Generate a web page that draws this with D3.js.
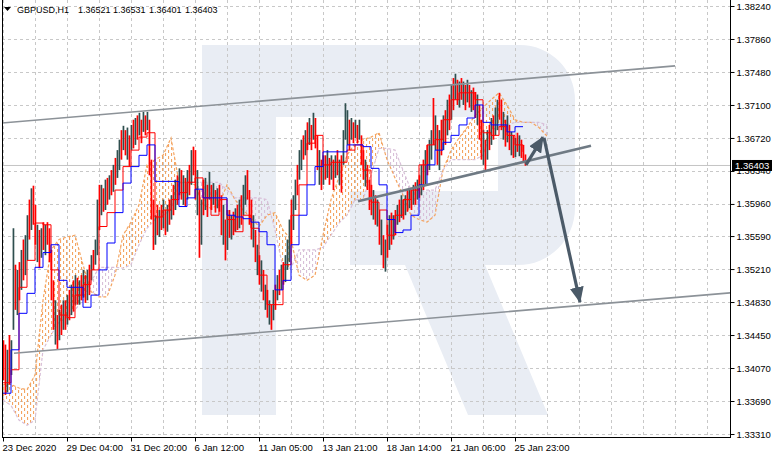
<!DOCTYPE html>
<html><head><meta charset="utf-8">
<script src="https://cdn.jsdelivr.net/npm/d3@7"></script>
<style>
html,body{margin:0;padding:0;background:#fff;}
svg{display:block;font-family:"Liberation Sans",Arial,sans-serif;}
</style></head><body>
<svg id="chart" width="776" height="458"></svg>
<script>
// ---------- DATA ----------
const symbolInfo = ["GBPUSD,H1", "1.36521", "1.36531", "1.36401", "1.36403"];
const lastPrice = 1.36403;
const priceTicks = [1.38240,1.37860,1.37480,1.37100,1.36720,1.36340,1.35960,1.35590,1.35210,1.34830,1.34450,1.34070,1.33690,1.33310];
const timeTickHours = [0,64,128,192,256,320,384,448,512];
const timeTickLabels = ["23 Dec 2020","29 Dec 04:00","31 Dec 20:00","6 Jan 12:00","11 Jan 05:00","13 Jan 21:00","18 Jan 14:00","21 Jan 06:00","25 Jan 23:00"];
const barStepHours = 2;     // one bar per 2 hours
const lineStepHours = 8;    // indicator samples every 8 hours

const highs = [
1.3439,1.3434,1.3428,1.3445,1.3439,1.3568,1.3526,1.3520,1.3529,1.3543,
1.3555,1.3560,1.3583,1.3601,1.3614,1.3617,1.3595,1.3572,1.3566,1.3568,
1.3575,1.3572,1.3575,1.3568,1.3543,1.3508,1.3485,1.3468,1.3474,1.3480,
1.3485,1.3485,1.3491,1.3497,1.3503,1.3508,1.3514,1.3511,1.3508,1.3514,
1.3520,1.3514,1.3520,1.3526,1.3537,1.3543,1.3555,1.3601,1.3618,1.3618,
1.3614,1.3624,1.3626,1.3629,1.3635,1.3641,1.3649,1.3658,1.3670,1.3681,
1.3686,1.3681,1.3684,1.3675,1.3687,1.3693,1.3695,1.3698,1.3701,1.3693,
1.3702,1.3698,1.3702,1.3693,1.3647,1.3601,1.3583,1.3595,1.3589,1.3595,
1.3601,1.3589,1.3595,1.3601,1.3606,1.3618,1.3624,1.3629,1.3637,1.3635,
1.3629,1.3626,1.3635,1.3641,1.3658,1.3662,1.3658,1.3635,1.3612,1.3601,
1.3624,1.3626,1.3618,1.3633,1.3618,1.3620,1.3612,1.3614,1.3618,1.3606,
1.3595,1.3578,1.3589,1.3589,1.3583,1.3587,1.3591,1.3595,1.3601,1.3606,
1.3618,1.3629,1.3635,1.3612,1.3601,1.3583,1.3566,1.3549,1.3537,1.3531,
1.3520,1.3503,1.3497,1.3485,1.3480,1.3497,1.3503,1.3514,1.3520,1.3526,
1.3529,1.3537,1.3555,1.3578,1.3601,1.3606,1.3624,1.3641,1.3658,1.3670,
1.3675,1.3681,1.3690,1.3695,1.3687,1.3701,1.3695,1.3675,1.3658,1.3647,
1.3652,1.3652,1.3658,1.3649,1.3652,1.3647,1.3652,1.3658,1.3647,1.3652,
1.3681,1.3712,1.3704,1.3693,1.3695,1.3690,1.3693,1.3687,1.3693,1.3675,
1.3658,1.3647,1.3641,1.3624,1.3618,1.3612,1.3606,1.3601,1.3589,1.3578,
1.3560,1.3555,1.3572,1.3583,1.3586,1.3583,1.3589,1.3595,1.3601,1.3606,
1.3601,1.3606,1.3612,1.3614,1.3612,1.3618,1.3621,1.3624,1.3629,1.3641,
1.3647,1.3658,1.3664,1.3670,1.3681,1.3718,1.3698,1.3687,1.3681,1.3693,
1.3698,1.3704,1.3716,1.3722,1.3733,1.3741,1.3746,1.3739,1.3737,1.3741,
1.3737,1.3733,1.3739,1.3733,1.3727,1.3730,1.3725,1.3722,1.3710,1.3693,
1.3681,1.3670,1.3681,1.3687,1.3695,1.3698,1.3707,1.3716,1.3724,1.3716,
1.3702,1.3693,1.3698,1.3687,1.3679,1.3675,1.3672,1.3678,1.3675,1.3670,
1.3664,1.3653];
const lows = [
1.3393,1.3376,1.3379,1.3388,1.3399,1.3451,1.3474,1.3468,1.3485,1.3497,
1.3508,1.3514,1.3531,1.3555,1.3566,1.3572,1.3549,1.3529,1.3522,1.3534,
1.3543,1.3537,1.3549,1.3529,1.3485,1.3451,1.3434,1.3428,1.3439,1.3445,
1.3451,1.3451,1.3457,1.3462,1.3468,1.3472,1.3480,1.3480,1.3480,1.3485,
1.3488,1.3482,1.3485,1.3491,1.3508,1.3520,1.3526,1.3537,1.3566,1.3583,
1.3587,1.3589,1.3595,1.3601,1.3606,1.3610,1.3618,1.3626,1.3635,1.3647,
1.3658,1.3652,1.3647,1.3639,1.3658,1.3660,1.3664,1.3670,1.3675,1.3666,
1.3679,1.3675,1.3681,1.3629,1.3578,1.3543,1.3549,1.3560,1.3558,1.3566,
1.3568,1.3560,1.3564,1.3572,1.3578,1.3583,1.3589,1.3595,1.3606,1.3601,
1.3595,1.3593,1.3601,1.3606,1.3618,1.3629,1.3601,1.3583,1.3534,1.3549,
1.3583,1.3589,1.3581,1.3601,1.3589,1.3595,1.3586,1.3591,1.3587,1.3560,
1.3549,1.3531,1.3543,1.3557,1.3555,1.3560,1.3564,1.3566,1.3568,1.3572,
1.3583,1.3595,1.3601,1.3572,1.3555,1.3546,1.3529,1.3514,1.3503,1.3495,
1.3485,1.3474,1.3465,1.3457,1.3451,1.3462,1.3474,1.3485,1.3491,1.3497,
1.3503,1.3506,1.3520,1.3529,1.3549,1.3566,1.3589,1.3606,1.3624,1.3635,
1.3647,1.3652,1.3658,1.3664,1.3658,1.3670,1.3660,1.3635,1.3618,1.3612,
1.3618,1.3624,1.3626,1.3618,1.3624,1.3612,1.3626,1.3629,1.3618,1.3609,
1.3641,1.3670,1.3664,1.3658,1.3670,1.3666,1.3672,1.3666,1.3670,1.3641,
1.3624,1.3616,1.3612,1.3589,1.3583,1.3578,1.3572,1.3570,1.3549,1.3537,
1.3522,1.3518,1.3534,1.3543,1.3549,1.3555,1.3560,1.3572,1.3575,1.3580,
1.3578,1.3583,1.3587,1.3591,1.3589,1.3595,1.3595,1.3601,1.3603,1.3606,
1.3612,1.3618,1.3629,1.3635,1.3647,1.3664,1.3658,1.3641,1.3635,1.3652,
1.3658,1.3664,1.3675,1.3681,1.3693,1.3704,1.3716,1.3710,1.3707,1.3716,
1.3710,1.3704,1.3713,1.3707,1.3702,1.3704,1.3695,1.3687,1.3670,1.3647,
1.3641,1.3635,1.3647,1.3658,1.3664,1.3670,1.3675,1.3681,1.3693,1.3681,
1.3670,1.3662,1.3667,1.3658,1.3652,1.3649,1.3650,1.3656,1.3651,1.3649,
1.3644,1.3640];
const closes = [
1.3405,1.3388,1.3416,1.3399,1.3434,1.3497,1.3480,1.3508,1.3491,1.3531,
1.3520,1.3555,1.3578,1.3566,1.3606,1.3583,1.3555,1.3560,1.3537,1.3564,
1.3549,1.3568,1.3555,1.3537,1.3491,1.3462,1.3474,1.3439,1.3468,1.3451,
1.3480,1.3462,1.3485,1.3468,1.3497,1.3480,1.3508,1.3485,1.3503,1.3491,
1.3514,1.3488,1.3514,1.3503,1.3531,1.3526,1.3549,1.3589,1.3578,1.3606,
1.3591,1.3618,1.3601,1.3624,1.3612,1.3635,1.3624,1.3652,1.3658,1.3652,
1.3681,1.3658,1.3675,1.3647,1.3681,1.3670,1.3690,1.3675,1.3695,1.3672,
1.3698,1.3681,1.3695,1.3635,1.3583,1.3560,1.3572,1.3566,1.3583,1.3572,
1.3595,1.3566,1.3589,1.3578,1.3601,1.3589,1.3618,1.3601,1.3633,1.3606,
1.3624,1.3601,1.3629,1.3618,1.3652,1.3641,1.3612,1.3624,1.3543,1.3595,
1.3589,1.3621,1.3589,1.3624,1.3595,1.3614,1.3591,1.3610,1.3595,1.3566,
1.3583,1.3543,1.3578,1.3564,1.3578,1.3566,1.3587,1.3572,1.3595,1.3583,
1.3612,1.3624,1.3606,1.3601,1.3566,1.3572,1.3537,1.3543,1.3508,1.3526,
1.3491,1.3497,1.3468,1.3480,1.3462,1.3491,1.3480,1.3508,1.3497,1.3520,
1.3508,1.3531,1.3549,1.3572,1.3566,1.3601,1.3618,1.3612,1.3652,1.3664,
1.3652,1.3675,1.3664,1.3690,1.3670,1.3693,1.3670,1.3641,1.3647,1.3618,
1.3647,1.3629,1.3652,1.3624,1.3647,1.3618,1.3647,1.3635,1.3641,1.3618,
1.3675,1.3681,1.3693,1.3670,1.3690,1.3672,1.3687,1.3670,1.3684,1.3647,
1.3629,1.3641,1.3618,1.3612,1.3589,1.3606,1.3578,1.3595,1.3555,1.3566,
1.3531,1.3549,1.3543,1.3575,1.3555,1.3578,1.3566,1.3589,1.3580,1.3601,
1.3583,1.3603,1.3591,1.3610,1.3595,1.3614,1.3601,1.3620,1.3612,1.3635,
1.3621,1.3652,1.3637,1.3664,1.3675,1.3670,1.3693,1.3647,1.3670,1.3658,
1.3693,1.3672,1.3710,1.3693,1.3727,1.3716,1.3739,1.3716,1.3733,1.3722,
1.3730,1.3710,1.3733,1.3716,1.3722,1.3710,1.3702,1.3716,1.3675,1.3658,
1.3670,1.3641,1.3675,1.3664,1.3690,1.3675,1.3702,1.3710,1.3698,1.3687,
1.3693,1.3667,1.3687,1.3664,1.3672,1.3652,1.3667,1.3660,1.3670,1.3658,
1.3652,1.3640];

const tenkan = [1.3390,1.3405,1.3500,1.3531,1.3574,1.3572,1.3520,1.3468,1.3465,1.3491,
1.3503,1.3520,1.3570,1.3586,1.3612,1.3639,1.3658,1.3673,1.3678,1.3581,
1.3589,1.3601,1.3609,1.3621,1.3626,1.3603,1.3583,1.3601,1.3578,1.3564,
1.3583,1.3568,1.3514,1.3480,1.3480,1.3526,1.3583,1.3618,1.3666,1.3675,
1.3641,1.3644,1.3644,1.3658,1.3664,1.3635,1.3598,1.3589,1.3560,1.3583,
1.3601,1.3612,1.3641,1.3664,1.3670,1.3693,1.3716,1.3724,1.3724,1.3716,
1.3678,1.3675,1.3685,1.3675,1.3664,1.3656];
const kijun = [1.3378,1.3428,1.3470,1.3493,1.3523,1.3540,1.3549,1.3508,1.3500,1.3500,
1.3477,1.3491,1.3520,1.3551,1.3586,1.3620,1.3639,1.3652,1.3664,1.3622,
1.3622,1.3622,1.3593,1.3603,1.3613,1.3603,1.3603,1.3603,1.3583,1.3581,
1.3579,1.3575,1.3564,1.3549,1.3497,1.3508,1.3549,1.3583,1.3618,1.3639,
1.3656,1.3656,1.3656,1.3664,1.3664,1.3662,1.3637,1.3618,1.3578,1.3563,
1.3566,1.3583,1.3618,1.3641,1.3658,1.3667,1.3675,1.3687,1.3695,1.3710,
1.3690,1.3687,1.3687,1.3679,1.3685,1.3685];
const spanA = [1.3388,1.3388,1.3384,1.3382,1.3399,1.3485,1.3543,1.3555,1.3558,1.3560,
1.3526,1.3495,1.3489,1.3489,1.3514,1.3560,1.3575,1.3595,1.3641,1.3647,
1.3652,1.3672,1.3621,1.3621,1.3618,1.3595,1.3591,1.3595,1.3618,1.3601,
1.3589,1.3580,1.3570,1.3583,1.3586,1.3566,1.3555,1.3514,1.3508,1.3514,
1.3560,1.3601,1.3627,1.3652,1.3666,1.3670,1.3673,1.3678,1.3647,1.3626,
1.3606,1.3583,1.3578,1.3575,1.3583,1.3635,1.3658,1.3672,1.3684,1.3698,
1.3707,1.3716,1.3724,1.3710,1.3693,1.3690,1.3690,1.3684,1.3674];
const spanB = [1.3370,1.3364,1.3347,1.3341,1.3347,1.3428,1.3445,1.3460,1.3465,1.3474,
1.3485,1.3506,1.3523,1.3523,1.3523,1.3522,1.3526,1.3549,1.3568,1.3578,
1.3583,1.3589,1.3620,1.3621,1.3621,1.3621,1.3621,1.3621,1.3612,1.3603,
1.3603,1.3603,1.3603,1.3601,1.3566,1.3522,1.3522,1.3543,1.3543,1.3543,
1.3546,1.3560,1.3574,1.3583,1.3601,1.3601,1.3629,1.3660,1.3660,1.3658,
1.3635,1.3612,1.3612,1.3612,1.3612,1.3635,1.3647,1.3647,1.3647,1.3647,
1.3652,1.3681,1.3685,1.3687,1.3690,1.3690,1.3690,1.3690,1.3687];

// drawn objects: [hour, price] anchor pairs
const channelUpper = [[-3, 1.3689], [672, 1.3755]];
const channelLower = [[11, 1.3424], [773, 1.3498]];
const midTrend = [[355, 1.3599], [588, 1.3663]];
const arrowUp = [[523, 1.3641], [540, 1.3673]];
const arrowDown = [[541, 1.3672], [577, 1.3483]];

// ---------- CHART ----------
const svg = d3.select("#chart");
const plotL = 2, plotR = 730, plotB = 437;
const xScale = d3.scaleLinear().domain([0, 727]).range([3, 730]);
const yScale = d3.scaleLinear().domain([1.33310, 1.38240]).range([434, 6]);

const defs = svg.append("defs");
defs.append("clipPath").attr("id","plotClip").append("rect")
  .attr("x",plotL).attr("y",0).attr("width",plotR-plotL).attr("height",plotB);
function hatch(id, color){
  const p = defs.append("pattern").attr("id",id).attr("patternUnits","userSpaceOnUse")
    .attr("width",6).attr("height",6);
  p.append("rect").attr("x",0).attr("y",0).attr("width",1.1).attr("height",3).attr("fill",color);
  p.append("rect").attr("x",3).attr("y",3).attr("width",1.1).attr("height",3).attr("fill",color);
}
hatch("hatchA","#f4a460");
hatch("hatchB","#d8bfd8");
const mk = defs.append("marker").attr("id","arrowHead").attr("markerUnits","userSpaceOnUse")
  .attr("markerWidth",16).attr("markerHeight",14).attr("refX",15).attr("refY",7).attr("orient","auto");
mk.append("path").attr("d","M0,0 L16,7 L0,14 Z").attr("fill","#4b5a68");

svg.append("rect").attr("width",776).attr("height",458).attr("fill","#fff");

// watermark logo (decoration)
const wm = svg.append("g").attr("fill","#e9edf4");
wm.append("path").attr("d","M202,45 H520 A55,55 0 0 1 575,100 V208 A57,57 0 0 1 518,265 H350 V191 H498 V117 H276 V415 H202 Z");
wm.append("path").attr("d","M405,265 H485 L548,415 H468 Z");

// grid
const grid = svg.append("g").attr("stroke","#c8c8c8").attr("stroke-dasharray","3,3").attr("stroke-width",1);
grid.selectAll("line.h").data(priceTicks).join("line")
  .attr("x1",plotL).attr("x2",plotR)
  .attr("y1",d=>Math.round(yScale(d))+0.5).attr("y2",d=>Math.round(yScale(d))+0.5);
grid.selectAll("line.v").data(d3.range(0, 727, 32)).join("line")
  .attr("y1",0).attr("y2",plotB)
  .attr("x1",d=>Math.round(xScale(d))+0.5).attr("x2",d=>Math.round(xScale(d))+0.5);

const plot = svg.append("g").attr("clip-path","url(#plotClip)");

// bid line
plot.append("line").attr("x1",plotL).attr("x2",plotR)
  .attr("y1",yScale(lastPrice)).attr("y2",yScale(lastPrice))
  .attr("stroke","#c4c4c4").attr("stroke-width",1);

// Ichimoku cloud
const cloud = spanA.map((a,i)=>({h:i*lineStepHours, a:a, b:spanB[i]}));
defs.append("clipPath").attr("id","aboveB").append("path")
  .attr("d", d3.area().x(d=>xScale(d.h)).y0(0).y1(d=>yScale(d.b))(cloud));
defs.append("clipPath").attr("id","belowB").append("path")
  .attr("d", d3.area().x(d=>xScale(d.h)).y0(d=>yScale(d.b)).y1(plotB)(cloud));
plot.append("path").attr("clip-path","url(#aboveB)").attr("fill","url(#hatchA)")
  .attr("d", d3.area().x(d=>xScale(d.h)).y0(d=>yScale(d.a)).y1(plotB)(cloud));
plot.append("path").attr("clip-path","url(#belowB)").attr("fill","url(#hatchB)")
  .attr("d", d3.area().x(d=>xScale(d.h)).y0(0).y1(d=>yScale(d.a))(cloud));
const lineGen = d3.line().x(d=>xScale(d.h)).y(d=>yScale(d.v));
plot.append("path").attr("fill","none").attr("stroke","#f4a460").attr("stroke-width",1.2)
  .attr("stroke-dasharray","3,2").attr("d", lineGen(cloud.map(d=>({h:d.h, v:d.a}))));
plot.append("path").attr("fill","none").attr("stroke","#d8bfd8").attr("stroke-width",1.2)
  .attr("stroke-dasharray","3,2").attr("d", lineGen(cloud.map(d=>({h:d.h, v:d.b}))));

// candles (one per 2 hours)
const bars = highs.map((h,i)=>({h:i*barStepHours, hi:h, lo:lows[i], cl:closes[i],
  op: i>0 ? closes[i-1] : (h+lows[i])/2}));
plot.append("g").selectAll("rect").data(bars).join("rect")
  .attr("x", d=>xScale(d.h)-0.4)
  .attr("width", 1.7)
  .attr("y", d=>yScale(d.hi))
  .attr("height", d=>Math.max(1, yScale(d.lo)-yScale(d.hi)))
  .attr("fill", d=> d.cl < d.op ? "#ff0000" : "#2f4f4f");

// Tenkan / Kijun
const stepLine = d3.line().x(d=>xScale(d.h)).y(d=>yScale(d.v)).curve(d3.curveStepAfter);
plot.append("path").attr("fill","none").attr("stroke","#ff0000").attr("stroke-width",1)
  .attr("d", stepLine(tenkan.map((v,i)=>({h:i*lineStepHours, v}))));
plot.append("path").attr("fill","none").attr("stroke","#0000ff").attr("stroke-width",1)
  .attr("d", stepLine(kijun.map((v,i)=>({h:i*lineStepHours, v}))));

// trend lines & arrows
const seg = d3.line().x(d=>xScale(d[0])).y(d=>yScale(d[1]));
plot.append("path").attr("d",seg(channelUpper)).attr("stroke","#8c9298").attr("stroke-width",1.6).attr("fill","none");
plot.append("path").attr("d",seg(channelLower)).attr("stroke","#8c9298").attr("stroke-width",1.6).attr("fill","none");
plot.append("path").attr("d",seg(midTrend)).attr("stroke","#6f7a84").attr("stroke-width",2.6).attr("fill","none");
plot.append("path").attr("d",seg(arrowUp)).attr("stroke","#4b5a68").attr("stroke-width",3.2).attr("fill","none").attr("marker-end","url(#arrowHead)");
plot.append("path").attr("d",seg(arrowDown)).attr("stroke","#4b5a68").attr("stroke-width",3.2).attr("fill","none").attr("marker-end","url(#arrowHead)");

// frame
svg.append("line").attr("x1",plotL+0.5).attr("x2",plotL+0.5).attr("y1",0).attr("y2",plotB).attr("stroke","#000");
svg.append("line").attr("x1",plotR+0.5).attr("x2",plotR+0.5).attr("y1",0).attr("y2",plotB+1).attr("stroke","#000");
svg.append("line").attr("x1",plotL).attr("x2",plotR+1).attr("y1",plotB+0.5).attr("y2",plotB+0.5).attr("stroke","#000");

// right price axis
const yAxis = svg.append("g").attr("transform",`translate(${plotR+0.5},0)`)
  .call(d3.axisRight(yScale).tickValues(priceTicks).tickSize(4).tickPadding(2).tickFormat(d3.format(".5f")));
yAxis.select(".domain").remove();
yAxis.selectAll("text").attr("font-size",9.5).attr("font-family","Liberation Sans, Arial, sans-serif").attr("fill","#000");
yAxis.selectAll("line").attr("stroke","#000");

// bottom time axis
const xAxis = svg.append("g").attr("transform",`translate(0,${plotB+0.5})`)
  .call(d3.axisBottom(xScale).tickValues(timeTickHours).tickSize(4).tickPadding(3)
    .tickFormat((d,i)=>timeTickLabels[i]));
xAxis.select(".domain").remove();
xAxis.selectAll("text").attr("text-anchor","start").attr("x",-1)
  .attr("font-size",9.5).attr("font-family","Liberation Sans, Arial, sans-serif").attr("fill","#000");
xAxis.selectAll("line").attr("stroke","#000");

// current price label
const by = yScale(lastPrice);
svg.append("rect").attr("x",732).attr("y",by-5.5).attr("width",40).attr("height",11).attr("fill","#000");
svg.append("text").attr("x",735).attr("y",by+3.5).attr("fill","#fff").attr("font-size",9.5)
  .text(d3.format(".5f")(lastPrice));

// title
svg.append("path").attr("d","M4,7 L11,7 L7.5,11 Z").attr("fill","#000");
const titleX = [17, 78, 113, 149, 185];
svg.append("g").selectAll("text").data(symbolInfo).join("text")
  .attr("x",(d,i)=>titleX[i]).attr("y",13).attr("font-size",9).attr("fill","#000").text(d=>d);
</script>
</body></html>
